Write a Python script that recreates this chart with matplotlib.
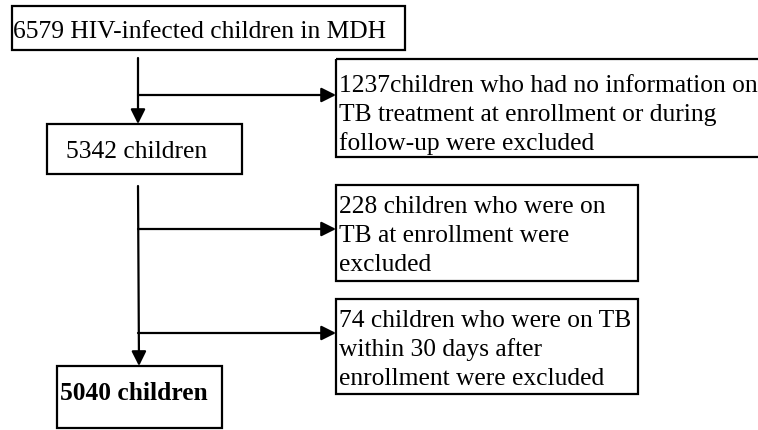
import matplotlib
matplotlib.use("Agg")
import matplotlib.pyplot as plt
from matplotlib.patches import Rectangle

plt.rcParams["font.family"] = ["Liberation Serif", "DejaVu Serif"]

# flow counts and labels
main_labels = ["6579 HIV-infected children in MDH", "5342 children", "5040 children"]
excluded_labels = [
    ["1237children who had no information on",
     "TB treatment at enrollment or during",
     "follow-up were excluded"],
    ["228 children who were on", "TB at enrollment were", "excluded"],
    ["74 children who were on TB", "within 30 days after", "enrollment were excluded"],
]

W, H = 758, 431
fig = plt.figure(figsize=(W / 100, H / 100), dpi=100)
ax = fig.add_axes([0, 0, 1, 1])
ax.set_xlim(0, W)
ax.set_ylim(H, 0)
ax.axis("off")

LW = 1.6
FS = 18.4
LINE = 29

# (x0, y0, x1, y1) in pixels, top-down
main_boxes = [(12, 7, 405, 51), (47, 125, 242, 175), (57, 367, 222, 429)]
main_text = [(13, 38), (66, 158), (60, 400)]
excl_boxes = [(336, 60, 775, 158), (336, 186, 638, 282), (336, 300, 638, 395)]
excl_first_base = [92, 213, 327]


def box(b):
    x0, y0, x1, y1 = b
    p = Rectangle((x0, y0), x1 - x0, y1 - y0, fill=False,
                  lw=LW, ec="black", clip_on=False)
    ax.add_patch(p)
    return p


for b, (tx, ty), lab in zip(main_boxes, main_text, main_labels):
    box(b)
    ax.text(tx, ty, lab, fontsize=FS, va="baseline", ha="left",
            fontweight="bold" if lab == main_labels[-1] else "normal")

for b, y0, lines in zip(excl_boxes, excl_first_base, excluded_labels):
    box(b)
    # text inside the exclusion boxes is cut at the box bottom
    clip = Rectangle((b[0], b[1]), b[2] - b[0], b[3] - b[1] - 6,
                     transform=ax.transData, visible=False)
    ax.add_patch(clip)
    for i, line in enumerate(lines):
        t = ax.text(b[0] + 3, y0 + i * LINE, line, fontsize=FS,
                    va="baseline", ha="left")
        t.set_clip_path(clip)

arrow = dict(arrowstyle="-|>", lw=LW, color="black", mutation_scale=22,
             shrinkA=0, shrinkB=0)

# main spine
ax.annotate("", xy=(138, 125), xytext=(138, 59), arrowprops=arrow)
ax.annotate("", xy=(139, 367), xytext=(138, 187), arrowprops=arrow)

# branches to exclusion boxes
for y in [96, 230, 334]:
    ax.annotate("", xy=(336, y), xytext=(138, y), arrowprops=arrow)

fig.savefig("out.png", dpi=100)
